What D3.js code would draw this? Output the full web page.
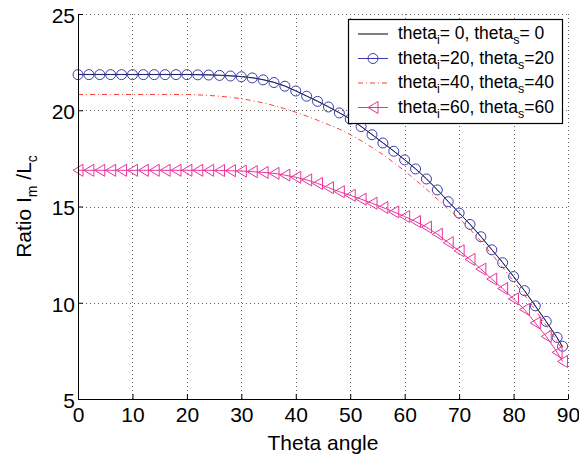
<!DOCTYPE html>
<html>
<head>
<meta charset="utf-8">
<script src="https://cdn.jsdelivr.net/npm/d3@7"></script>
<style>
  html, body { margin: 0; padding: 0; background: #fff; }
  svg { display: block; font-family: "Liberation Sans", Arial, Helvetica, sans-serif; }
</style>
</head>
<body>
<svg id="chart" width="579" height="457"></svg>
<script>
// ---------- data ----------
const angles = [0,2,4,6,8,10,12,14,16,18,20,22,24,26,28,30,32,34,36,38,40,42,44,46,48,50,52,54,56,58,60,62,64,66,68,70,72,74,76,78,80,82,84,86,88,89];

const theta0 = [21.86,21.86,21.86,21.86,21.86,21.86,21.86,21.86,21.86,21.86,21.86,21.85,21.84,21.82,21.79,21.75,21.69,21.59,21.45,21.26,21.01,20.74,20.47,20.18,19.87,19.55,19.16,18.74,18.31,17.88,17.43,16.96,16.44,15.87,15.26,14.67,14.08,13.44,12.76,12.09,11.36,10.63,9.83,9.02,8.18,7.70];

const theta20 = [21.85,21.85,21.85,21.85,21.85,21.85,21.85,21.85,21.85,21.85,21.85,21.84,21.83,21.81,21.78,21.74,21.68,21.58,21.44,21.25,21.00,20.73,20.46,20.17,19.86,19.54,19.15,18.73,18.30,17.87,17.42,16.95,16.43,15.86,15.25,14.66,14.07,13.43,12.75,12.08,11.36,10.63,9.84,9.03,8.20,7.74];

const theta40 = [20.82,20.82,20.82,20.82,20.82,20.82,20.82,20.82,20.82,20.82,20.82,20.80,20.77,20.73,20.67,20.60,20.50,20.38,20.24,20.08,19.90,19.70,19.48,19.25,19.02,18.74,18.42,18.07,17.70,17.28,16.85,16.38,15.90,15.38,14.86,14.38,13.82,13.20,12.52,11.84,11.12,10.40,9.62,8.82,8.00,7.55];

const theta60 = [16.88,16.88,16.88,16.88,16.88,16.88,16.88,16.88,16.88,16.88,16.88,16.88,16.88,16.87,16.86,16.84,16.81,16.77,16.72,16.63,16.52,16.38,16.20,15.98,15.77,15.58,15.38,15.17,14.95,14.72,14.48,14.22,13.93,13.56,13.12,12.70,12.25,11.75,11.23,10.74,10.20,9.65,8.95,8.25,7.42,6.95];

const xTicks = [0,10,20,30,40,50,60,70,80,90];
const yTicks = [5,10,15,20,25];
const xLabel = "Theta angle";

const legendItems = [
  {key: "t0",  a: "= 0, theta", b: "= 0"},
  {key: "t20", a: "=20, theta", b: "=20"},
  {key: "t40", a: "=40, theta", b: "=40"},
  {key: "t60", a: "=60, theta", b: "=60"}
];

// ---------- layout ----------
const svg = d3.select("#chart");
const W = 579, H = 457;
const x = d3.scaleLinear().domain([0, 90]).range([78, 568]);
const y = d3.scaleLinear().domain([5, 25]).range([399, 14]);

svg.append("rect").attr("width", W).attr("height", H).attr("fill", "#fff");

// grid
const grid = svg.append("g").attr("stroke", "#666").attr("stroke-width", 1).attr("stroke-dasharray", "1,3");
grid.selectAll("line.gx").data(xTicks.slice(1)).join("line")
  .attr("x1", d => Math.round(x(d)) + 0.5).attr("x2", d => Math.round(x(d)) + 0.5)
  .attr("y1", y(5)).attr("y2", y(25));
grid.selectAll("line.gy").data(yTicks.slice(1)).join("line")
  .attr("y1", d => Math.round(y(d)) + 0.5).attr("y2", d => Math.round(y(d)) + 0.5)
  .attr("x1", x(0)).attr("x2", x(90));

// series
const line = d3.line().x(d => x(d[0])).y(d => y(d[1]));
const pts = arr => angles.map((a, i) => [a, arr[i]]);

const cBlack = "#000", cBlue = "#3c3cb0", cRed = "#ff3c3c", cMag = "#e8339a";

svg.append("path").datum(pts(theta0)).attr("d", line)
  .attr("fill", "none").attr("stroke", cBlack).attr("stroke-width", 1);
svg.append("path").datum(pts(theta20)).attr("d", line)
  .attr("fill", "none").attr("stroke", cBlue).attr("stroke-width", 1).attr("stroke-opacity", 0.6);
svg.append("g").selectAll("circle").data(pts(theta20)).join("circle")
  .attr("cx", d => x(d[0])).attr("cy", d => y(d[1])).attr("r", 5)
  .attr("fill", "none").attr("stroke", cBlue).attr("stroke-width", 1);

svg.append("path").datum(pts(theta40)).attr("d", line)
  .attr("fill", "none").attr("stroke", cRed).attr("stroke-width", 1)
  .attr("stroke-dasharray", "5,3,1,3");

svg.append("path").datum(pts(theta60)).attr("d", line)
  .attr("fill", "none").attr("stroke", cMag).attr("stroke-width", 1);
const tri = (cx, cy) => `M${cx - 5},${cy}L${cx + 5},${cy - 6}L${cx + 5},${cy + 6}Z`;
svg.append("g").selectAll("path").data(pts(theta60)).join("path")
  .attr("d", d => tri(x(d[0]), y(d[1])))
  .attr("fill", "none").attr("stroke", cMag).attr("stroke-width", 1);

// axes
const xAxis = d3.axisBottom(x).tickValues(xTicks).tickSizeInner(-5).tickSizeOuter(0).tickPadding(8);
const yAxis = d3.axisLeft(y).tickValues(yTicks).tickSizeInner(-5).tickSizeOuter(0).tickPadding(3);

const gx = svg.append("g").attr("transform", `translate(0,${y(5)})`).call(xAxis);
const gy = svg.append("g").attr("transform", `translate(${x(0)},0)`).call(yAxis);
[gx, gy].forEach(g => {
  g.selectAll("path.domain").attr("stroke", "#000").attr("stroke-width", 1);
  g.selectAll(".tick line").attr("stroke", "#000");
  g.selectAll(".tick text").attr("fill", "#000").attr("font-size", 21)
    .attr("font-family", "Liberation Sans, Arial, sans-serif");
});
gy.selectAll(".tick text").attr("dy", "0.4em");

// axis labels
svg.append("text").attr("x", (x(0) + x(90)) / 2).attr("y", 450)
  .attr("text-anchor", "middle").attr("font-size", 21).attr("fill", "#000").text(xLabel);

const yl = svg.append("text")
  .attr("transform", `translate(31,${(y(5) + y(25)) / 2}) rotate(-90)`)
  .attr("text-anchor", "middle").attr("font-size", 21).attr("fill", "#000");
yl.append("tspan").text("Ratio I");
yl.append("tspan").attr("font-size", 14).attr("dy", 6).text("m");
yl.append("tspan").attr("dy", -6).text(" /L");
yl.append("tspan").attr("font-size", 14).attr("dy", 6).text("c");

// legend
const lg = svg.append("g");
lg.append("rect").attr("x", 348.5).attr("y", 19.5).attr("width", 214).attr("height", 104)
  .attr("fill", "#fff").attr("stroke", "#000").attr("stroke-width", 1.2);
const rowY = [34, 58.5, 83, 107.5];
const colors = {t0: cBlack, t20: cBlue, t40: cRed, t60: cMag};
legendItems.forEach((it, i) => {
  const cy = rowY[i];
  const g = lg.append("g");
  const ln = g.append("line").attr("x1", 358).attr("x2", 388).attr("y1", cy).attr("y2", cy)
    .attr("stroke", colors[it.key]).attr("stroke-width", 1);
  if (it.key === "t40") ln.attr("stroke-dasharray", "5,3,1,3");
  if (it.key === "t20") g.append("circle").attr("cx", 373).attr("cy", cy).attr("r", 5)
    .attr("fill", "none").attr("stroke", cBlue);
  if (it.key === "t60") g.append("path").attr("d", tri(373, cy))
    .attr("fill", "none").attr("stroke", cMag);
  const t = g.append("text").attr("x", 398).attr("y", cy + 5).attr("font-size", 17.5).attr("fill", "#000");
  t.append("tspan").text("theta");
  t.append("tspan").attr("font-size", 12.5).attr("dy", 5).text("i");
  t.append("tspan").attr("dy", -5).text(it.a);
  t.append("tspan").attr("font-size", 12.5).attr("dy", 5).text("s");
  t.append("tspan").attr("dy", -5).text(it.b);
});
</script>
</body>
</html>
